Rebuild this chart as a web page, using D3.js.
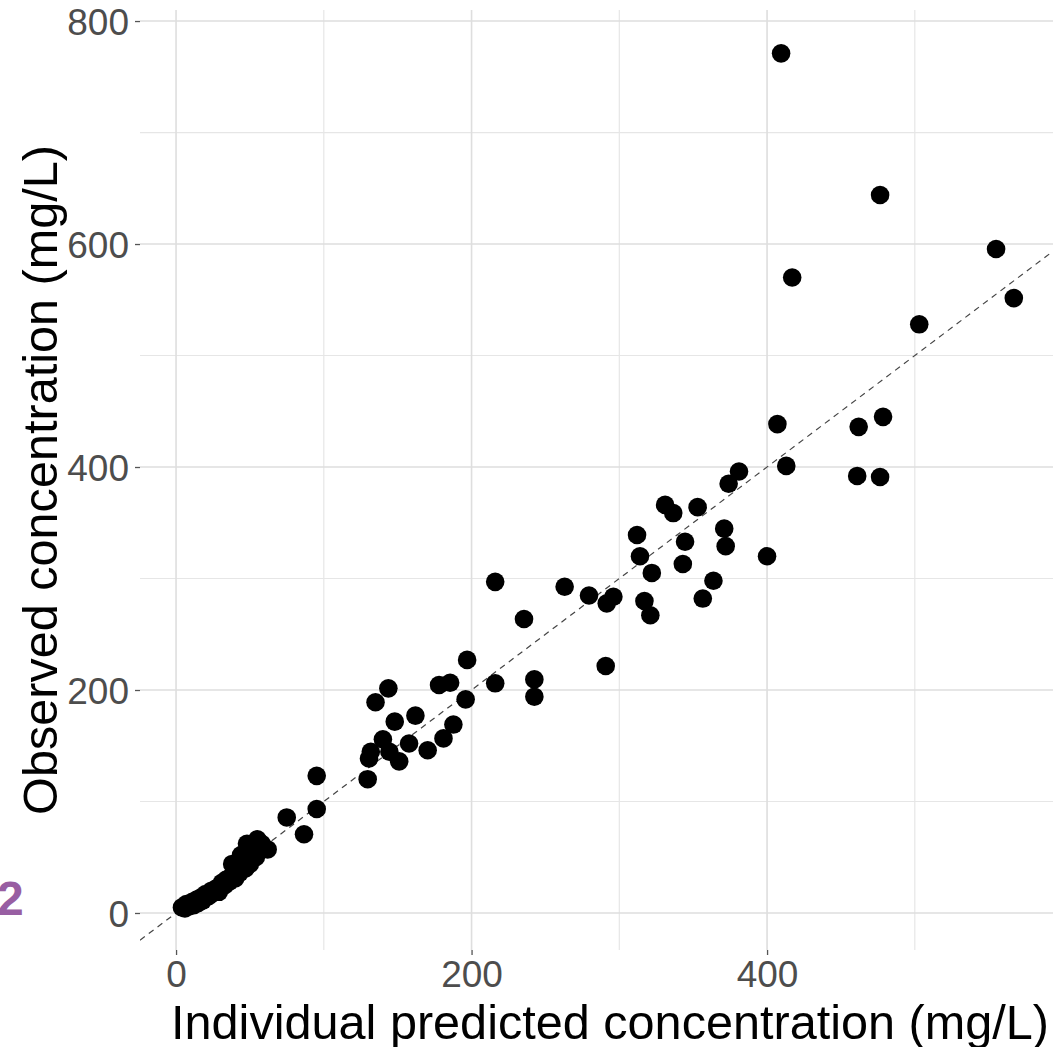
<!DOCTYPE html>
<html>
<head>
<meta charset="utf-8">
<script src="https://cdn.jsdelivr.net/npm/d3@7"></script>
<style>
  body { margin: 0; background: #fff; }
  svg { display: block; font-family: "Liberation Sans", Arial, sans-serif; }
</style>
</head>
<body>
<div id="chart"></div>
<script>
// Individual predicted (x) vs observed (y), mg/L
const predicted = [
  4, 6, 7, 9, 11, 12, 14, 15, 17, 18, 20, 22, 24, 25, 27, 29, 31, 33, 34, 36,
  38, 40, 41, 43, 45, 47, 49, 50, 52, 54, 55, 57, 58, 60, 62, 48, 44, 38, 55,
  74.9, 86.6, 95.2, 95.2,
  129.7, 130.6, 131.8, 135, 140, 143.7, 144.4, 148, 151, 157.7, 162, 170.3, 181, 187.7,
  178, 185.5, 196, 197, 216, 216, 235.5, 242.5, 242.5,
  263, 279.5, 290.8, 291.5, 296, 312, 314, 317, 321, 322, 331, 336.5, 343, 344.5,
  353, 356.5, 363.7, 371, 372, 374, 381, 400, 407, 413, 461, 462, 476.5, 478.5,
  409.5, 476.5, 417, 503, 555, 567
];
const observed = [
  5, 4, 8, 6, 10, 7, 12, 9, 14, 11, 17, 15, 20, 18, 22, 19, 27, 25, 30, 28,
  34, 31, 38, 36, 42, 40, 48, 44, 55, 50, 60, 56, 62, 58, 57, 62, 52, 44, 66,
  85.7, 70.6, 123, 93.3,
  120, 138.6, 144.6, 189, 155.8, 201.5, 144.6, 171.6, 136, 152, 177, 146, 156.6, 169,
  204.5, 206.5, 191.6, 227, 297, 206, 263.7, 209.5, 194,
  292.6, 284.8, 221.5, 277.7, 283.6, 339, 320, 279.8, 267, 305, 366, 358.7, 313, 333,
  364, 282, 298, 344.7, 329, 385, 396, 320, 438.5, 401, 392, 436, 391, 445,
  771, 644, 570, 528, 595.5, 551.5
];
const xTicks = [0, 200, 400];
const yTicks = [0, 200, 400, 600, 800];
const xMinor = [100, 300, 500];
const yMinor = [100, 300, 500, 700];
const xLimits = [-24.4, 611.8];
const yLimits = [-33.2, 809.9];

const W = 1053, H = 1047;
const panel = { left: 140, right: 1080, top: 10, bottom: 950 };

const svg = d3.select("#chart").append("svg")
  .attr("width", W).attr("height", H);

const x = d3.scaleLinear().domain(xLimits).range([panel.left, panel.right]);
const y = d3.scaleLinear().domain(yLimits).range([panel.bottom, panel.top]);

svg.append("defs").append("clipPath").attr("id", "clip")
  .append("rect")
  .attr("x", panel.left).attr("y", panel.top)
  .attr("width", panel.right - panel.left).attr("height", panel.bottom - panel.top);

const grid = svg.append("g").attr("clip-path", "url(#clip)");

// minor grid
grid.selectAll("line.vminor").data(xMinor).join("line")
  .attr("x1", d => x(d)).attr("x2", d => x(d))
  .attr("y1", panel.top).attr("y2", panel.bottom)
  .attr("stroke", "#e6e6e6").attr("stroke-width", 1.2);
grid.selectAll("line.hminor").data(yMinor).join("line")
  .attr("y1", d => y(d)).attr("y2", d => y(d))
  .attr("x1", panel.left).attr("x2", panel.right)
  .attr("stroke", "#e6e6e6").attr("stroke-width", 1.2);

// major grid
grid.selectAll("line.vmajor").data(xTicks.concat([600])).join("line")
  .attr("x1", d => x(d)).attr("x2", d => x(d))
  .attr("y1", panel.top).attr("y2", panel.bottom)
  .attr("stroke", "#dedede").attr("stroke-width", 1.6);
grid.selectAll("line.hmajor").data(yTicks).join("line")
  .attr("y1", d => y(d)).attr("y2", d => y(d))
  .attr("x1", panel.left).attr("x2", panel.right)
  .attr("stroke", "#dedede").attr("stroke-width", 1.6);

// identity line
const lo = Math.max(xLimits[0], yLimits[0]);
const hi = Math.min(xLimits[1], yLimits[1]);
grid.append("line")
  .attr("x1", x(lo)).attr("y1", y(lo))
  .attr("x2", x(hi)).attr("y2", y(hi))
  .attr("stroke", "#444").attr("stroke-width", 1.2)
  .attr("stroke-dasharray", "6,5");

// points
const pts = predicted.map((p, i) => ({ p, o: observed[i] }));
grid.append("g").selectAll("circle").data(pts).join("circle")
  .attr("cx", d => x(d.p)).attr("cy", d => y(d.o))
  .attr("r", 9.3).attr("fill", "#000");

// axes
const xAxis = d3.axisBottom(x).tickValues(xTicks).tickSize(5).tickPadding(6);
const yAxis = d3.axisLeft(y).tickValues(yTicks).tickSize(5).tickPadding(6);

const gx = svg.append("g").attr("transform", `translate(0,${panel.bottom})`).call(xAxis);
const gy = svg.append("g").attr("transform", `translate(${panel.left},0)`).call(yAxis);
[gx, gy].forEach(g => {
  g.select(".domain").remove();
  g.selectAll(".tick line").attr("stroke", "#555").attr("stroke-width", 1.3);
  g.selectAll(".tick text").attr("fill", "#4d4d4d")
    .attr("font-size", 37).attr("font-family", "Liberation Sans, Arial, sans-serif");
});
gy.selectAll(".tick text").attr("dy", "0.36em");

// axis titles
const cx = (panel.left + panel.right) / 2;
const cy = (panel.top + panel.bottom) / 2;
svg.append("text")
  .attr("x", cx).attr("y", 1039)
  .attr("text-anchor", "middle")
  .attr("font-size", 48.6).attr("fill", "#000")
  .text("Individual predicted concentration (mg/L)");
svg.append("text")
  .attr("transform", `translate(57,${cy}) rotate(-90)`)
  .attr("text-anchor", "middle")
  .attr("font-size", 48.6).attr("fill", "#000")
  .text("Observed concentration (mg/L)");

// panel tag partially cropped at left
svg.append("text")
  .attr("x", -3).attr("y", 915)
  .attr("font-size", 48).attr("font-weight", "bold")
  .attr("fill", "#985ea2")
  .text("2");
</script>
</body>
</html>
